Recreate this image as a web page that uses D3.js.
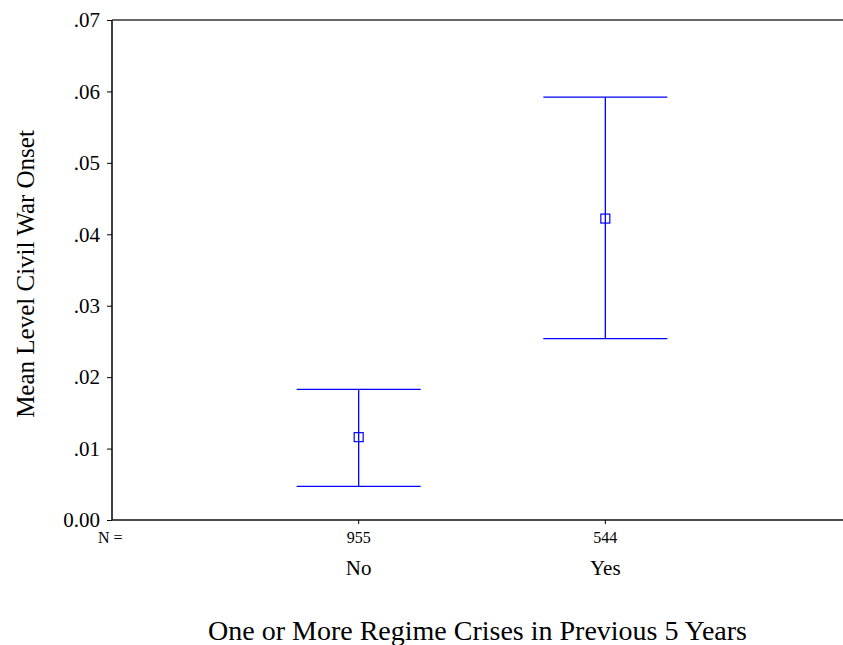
<!DOCTYPE html>
<html>
<head>
<meta charset="utf-8">
<script src="https://cdn.jsdelivr.net/npm/d3@7"></script>
<style>
  body { margin: 0; background: #fff; }
</style>
</head>
<body>
<svg id="chart" width="843" height="645" font-family="Liberation Serif"></svg>
<script>
// data
let categories = ["No", "Yes"];
let counts = [955, 544];
let means = [0.0116, 0.0422];
let lower = [0.0047, 0.0254];
let upper = [0.0183, 0.0592];
let yTicks = [0, 0.01, 0.02, 0.03, 0.04, 0.05, 0.06, 0.07];

let serif = "Liberation Serif";

let svg = d3.select("svg#chart");
let margin = { "top": 20, "left": 112, "bottom": 520, "right": 852 };

let xScale = d3.scalePoint().domain(categories).range([margin.left, margin.right]).padding(1);
let yScale = d3.scaleLinear().domain([0, 0.07]).range([margin.bottom, margin.top]);

// y axis
let yAxis = d3.axisLeft(yScale)
  .tickValues(yTicks)
  .tickSize(5)
  .tickPadding(7)
  .tickFormat(d => d === 0 ? "0.00" : d3.format(".2f")(d).replace(/^0/, ""));
let gy = svg.append("g").attr("transform", "translate(" + margin.left + ",0)").call(yAxis);
gy.select(".domain").remove();
gy.attr("font-family", serif).attr("font-size", 21);
gy.selectAll("line").attr("stroke", "#000").attr("stroke-width", 1);

svg.append("line")
  .attr("x1", margin.left).attr("x2", margin.left)
  .attr("y1", yScale(0.07)).attr("y2", yScale(0))
  .attr("stroke", "#000").attr("stroke-width", 1.5);
// top and bottom frame lines
svg.append("line")
  .attr("x1", margin.left).attr("x2", 843)
  .attr("y1", yScale(0.07)).attr("y2", yScale(0.07))
  .attr("stroke", "#333").attr("stroke-width", 1.3);
svg.append("line")
  .attr("x1", margin.left).attr("x2", 843)
  .attr("y1", yScale(0)).attr("y2", yScale(0))
  .attr("stroke", "#111").attr("stroke-width", 1.5);

// x ticks
svg.selectAll("line.xtick").data(categories).enter().append("line")
  .attr("class", "xtick")
  .attr("x1", d => xScale(d)).attr("x2", d => xScale(d))
  .attr("y1", yScale(0)).attr("y2", yScale(0) + 4)
  .attr("stroke", "#000").attr("stroke-width", 1);

svg.append("text").attr("x", 98).attr("y", 543)
  .attr("font-family", serif).attr("font-size", 16).text("N =");
svg.selectAll("text.count").data(counts).enter().append("text")
  .attr("class", "count")
  .attr("x", (d, i) => xScale(categories[i])).attr("y", 543)
  .attr("text-anchor", "middle").attr("font-family", serif).attr("font-size", 16).text(d => d);
svg.selectAll("text.cat").data(categories).enter().append("text")
  .attr("class", "cat")
  .attr("x", d => xScale(d)).attr("y", 575)
  .attr("text-anchor", "middle").attr("font-family", serif).attr("font-size", 21).text(d => d);

// error bars
let capHalf = 62;
for (let i = 0; i < categories.length; i++) {
  let cx = xScale(categories[i]);
  svg.append("line")
    .attr("x1", cx).attr("x2", cx)
    .attr("y1", yScale(upper[i])).attr("y2", yScale(lower[i]))
    .attr("stroke", "#0000ff").attr("stroke-width", 1.3);
  svg.append("line")
    .attr("x1", cx - capHalf).attr("x2", cx + capHalf)
    .attr("y1", yScale(upper[i])).attr("y2", yScale(upper[i]))
    .attr("stroke", "#0000ff").attr("stroke-width", 1.3);
  svg.append("line")
    .attr("x1", cx - capHalf).attr("x2", cx + capHalf)
    .attr("y1", yScale(lower[i])).attr("y2", yScale(lower[i]))
    .attr("stroke", "#0000ff").attr("stroke-width", 1.3);
  svg.append("rect")
    .attr("x", cx - 4.5).attr("y", yScale(means[i]) - 4.5)
    .attr("width", 9).attr("height", 9)
    .attr("fill", "none").attr("stroke", "#0000ff").attr("stroke-width", 1.2);
}

// titles
svg.append("text")
  .attr("transform", "translate(34," + ((yScale(0) + yScale(0.07)) / 2 + 4) + ") rotate(-90)")
  .attr("text-anchor", "middle").attr("font-family", serif).attr("font-size", 25)
  .text("Mean Level Civil War Onset");
svg.append("text")
  .attr("x", (margin.left + 843) / 2).attr("y", 640)
  .attr("text-anchor", "middle").attr("font-family", serif).attr("font-size", 28)
  .text("One or More Regime Crises in Previous 5 Years");
</script>
</body>
</html>
